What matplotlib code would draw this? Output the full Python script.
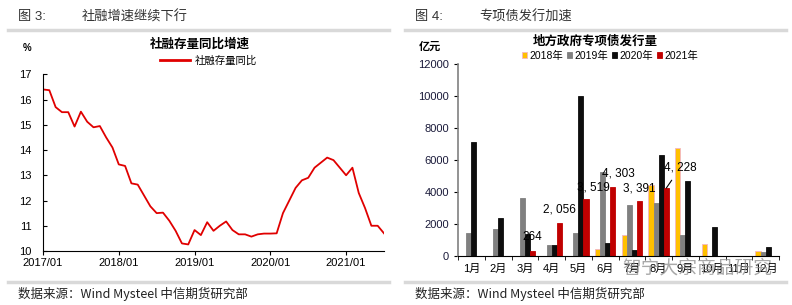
import matplotlib
matplotlib.use("Agg")
import matplotlib.pyplot as plt
from matplotlib.lines import Line2D

plt.rcParams['font.family'] = ['Liberation Sans', 'Noto Sans CJK SC', 'DejaVu Sans']

# 社融存量同比 (%), monthly 2017/01 - 2021/07
tsf_yoy = [16.4, 16.37, 15.7, 15.5, 15.5, 14.93, 15.52, 15.12, 14.9, 14.95, 14.5, 14.1,
           13.43, 13.37, 12.68, 12.63, 12.2, 11.77, 11.5, 11.52, 11.2, 10.8, 10.3, 10.26,
           10.83, 10.63, 11.14, 10.8, 11.0, 11.17, 10.83, 10.66, 10.66, 10.57, 10.66, 10.69,
           10.69, 10.7, 11.5, 12.0, 12.5, 12.8, 12.9, 13.3, 13.5, 13.7, 13.6, 13.3,
           13.0, 13.3, 12.3, 11.7, 11.0, 11.0, 10.7]
year_ticks = ['2017/01', '2018/01', '2019/01', '2020/01', '2021/01']

# 地方政府专项债发行量 (亿元)
months = ['1月', '2月', '3月', '4月', '5月', '6月', '7月', '8月', '9月', '10月', '11月', '12月']
years = ['2018年', '2019年', '2020年', '2021年']
bond_2018 = [0, 0, 0, 0, 0, 420, 1260, 4450, 6720, 740, 0, 300]
bond_2019 = [1400, 1680, 3580, 630, 1440, 5260, 3180, 3300, 1270, 0, 0, 190]
bond_2020 = [7110, 2340, 1340, 680, 9980, 780, 340, 6280, 4670, 1800, 0, 530]
bond_2021 = [0, 0, 264, 2056, 3519, 4303, 3391, 4228]
bar_colors = ['#FFC000', '#808080', '#0D0D0D', '#C00000']

W, H = 792, 305
fig = plt.figure(figsize=(W / 100, H / 100), dpi=100)


def box(x0, y0, x1, y1):
    return [x0 / W, 1 - y1 / H, (x1 - x0) / W, (y1 - y0) / H]


def px(x, y):
    return x / W, 1 - y / H


# headers / footers
for x0, x1, num, title in [(8, 389, '图 3:', '社融增速继续下行'), (405, 786, '图 4:', '专项债发行加速')]:
    fig.add_artist(Line2D([x0 / W, x1 / W], [1 - 30 / H] * 2, color='#d9d9d9', lw=2.5))
    fig.add_artist(Line2D([x0 / W, x1 / W], [1 - 282 / H] * 2, color='#d9d9d9', lw=2.5))
    fig.text(*px(x0 + 10, 17), num, fontsize=9.5, va='center', color='#333333')
    fig.text(*px(x0 + 74, 17), title, fontsize=9.5, va='center', color='#333333')
    fig.text(*px(x0 + 10, 294), '数据来源：Wind Mysteel 中信期货研究部', fontsize=9, va='center',
             color='#222222', family=['Noto Sans CJK SC'])

# ---- left chart ----
ax1 = fig.add_axes(box(43, 74.3, 384, 251))
x = list(range(len(tsf_yoy)))
ax1.plot(x, tsf_yoy, color='#E00000', lw=1.3)
ax1.set_xlim(0, len(tsf_yoy) - 1)
ax1.set_ylim(10, 17)
ax1.set_xticks([12 * i for i in range(len(year_ticks))])
ax1.set_xticklabels(year_ticks)
ax1.set_yticks(range(10, 18))
for s in ['top', 'right']:
    ax1.spines[s].set_visible(False)
for s in ['left', 'bottom']:
    ax1.spines[s].set_linewidth(0.8)
ax1.tick_params(axis='y', direction='in', length=3, labelsize=8, pad=8)
ax1.tick_params(axis='x', direction='out', length=3, labelsize=8, pad=2)
fig.text(*px(200, 44), '社融存量同比增速', fontsize=9, fontweight='bold', ha='center', va='center')
fig.text(*px(27, 48), '%', fontsize=7, ha='center', va='center', fontweight='bold')
fig.add_artist(Line2D([160 / W, 190 / W], [1 - 60 / H] * 2, color='#E00000', lw=2))
fig.text(*px(195, 61), '社融存量同比', fontsize=7.5, va='center')

# ---- right chart ----
ax2 = fig.add_axes(box(458, 64.3, 779, 255.5))
w = 0.19
series = [bond_2018, bond_2019, bond_2020, bond_2021]
for k, (vals, c, lab) in enumerate(zip(series, bar_colors, years)):
    xs = [i + (k - 1.5) * w for i in range(len(vals))]
    ec = '#F4B6C2' if k == 0 else c
    ax2.bar(xs, vals, width=w, color=c, edgecolor=ec, linewidth=0.6, label=lab)

ax2.set_xlim(-0.5, 11.5)
ax2.set_ylim(0, 12000)
ax2.set_yticks(range(0, 12001, 2000))
ax2.set_xticks(range(12))
ax2.set_xticklabels(months)
ax2.set_xticks([i - 0.5 for i in range(13)], minor=True)
ax2.tick_params(axis='x', which='major', length=0, labelsize=8, pad=6)
ax2.tick_params(axis='x', which='minor', length=3, direction='out')
ax2.tick_params(axis='y', labelsize=8, length=3, direction='out', labelcolor='#1a1a3a')
for s in ['top', 'right']:
    ax2.spines[s].set_visible(False)
ax2.spines['left'].set_color('#808080')
ax2.spines['left'].set_linewidth(1.2)
ax2.spines['bottom'].set_linewidth(0.8)

# value labels for 2021
offsets = {2: (0, 10), 3: (0, 9.7), 4: (5, 8.5), 5: (4, 10), 6: (0, 9.5)}
for i, (dx, dy) in offsets.items():
    v = bond_2021[i]
    ax2.annotate(f'{v:,}'.replace(',', ', '), (i + 1.5 * w, v), xytext=(dx, dy),
                 textcoords='offset points', ha='center', va='center', fontsize=8.5)
ax2.annotate(f'{bond_2021[7]:,}'.replace(',', ', '), (7 + 1.5 * w, bond_2021[7]),
             xytext=(10, 14.5), textcoords='offset points', ha='center', va='center',
             fontsize=8.5, arrowprops=dict(arrowstyle='-', color='black', lw=0.8,
                                           shrinkA=3, shrinkB=0))

fig.text(*px(595, 42), '地方政府专项债发行量', fontsize=9, fontweight='bold', ha='center', va='center')
fig.text(*px(430, 47), '亿元', fontsize=8, fontweight='bold', ha='center', va='center')
ax2.legend(loc='center', bbox_to_anchor=((610 - 458) / (779 - 458), 1 + (255.5 - 56) / (255.5 - 64.3) - 1),
           ncol=4, frameon=False, fontsize=7.5, handlelength=0.5, handleheight=0.5,
           handletextpad=0.2, columnspacing=0.4, borderpad=0)

# watermark
fig.text(*px(697, 268), '智宁大宗商品研究', fontsize=13.5, ha='center', va='center',
         color='#8c8c8c', alpha=0.75, family=['Noto Sans CJK SC'])

fig.savefig('out.png', dpi=100)
